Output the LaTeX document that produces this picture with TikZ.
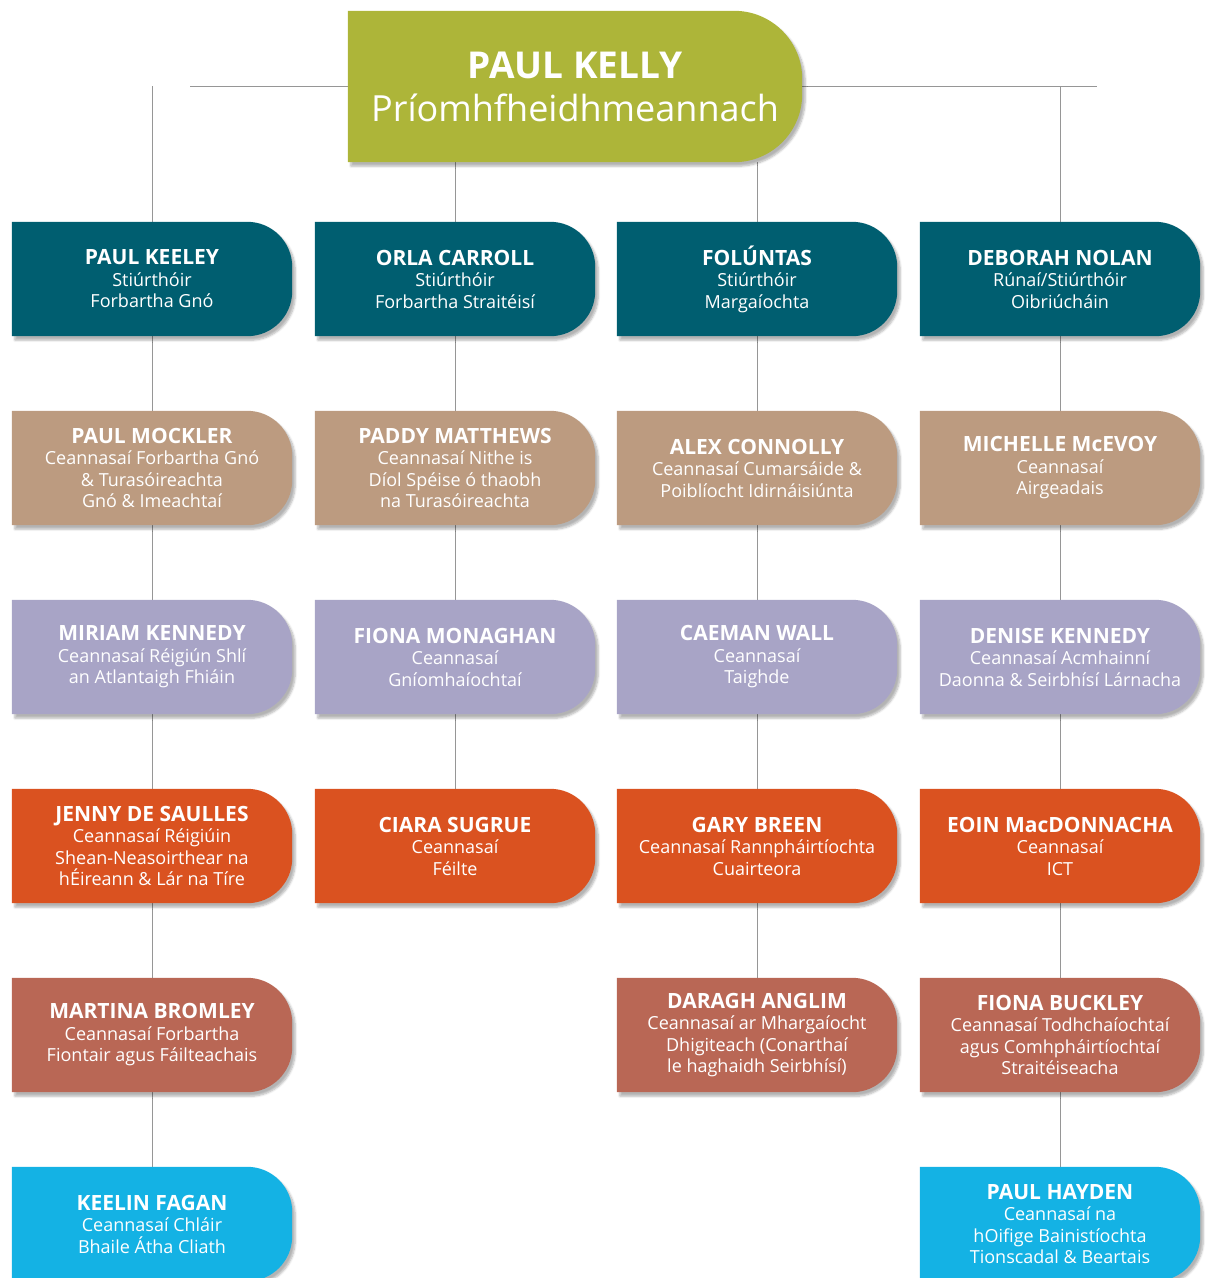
\documentclass[tikz,border=0pt]{standalone}
\usepackage{fontspec}
\setmainfont{Open Sans}
\usepackage{tikz}
\usetikzlibrary{positioning,calc,backgrounds,shadows.blur}
\definecolor{ceogreen}{RGB}{173,181,57}
\definecolor{dirteal}{RGB}{0,94,112}
\definecolor{headtan}{RGB}{188,155,128}
\definecolor{headlav}{RGB}{168,164,198}
\definecolor{headorange}{RGB}{218,82,32}
\definecolor{headrust}{RGB}{185,103,85}
\definecolor{headcyan}{RGB}{20,178,228}
\definecolor{linegray}{RGB}{150,150,150}
\newcommand{\who}[1]{{\bfseries\fontsize{21}{21.5}\selectfont #1}}

\begin{document}
\begin{tikzpicture}[x=1pt,y=-1pt,
    orgbox/.style={rectangle,inner sep=0pt,minimum width=280pt,minimum height=114pt,
      align=center,text=white,font=\fontsize{18}{21.5}\selectfont},
    orgline/.style={draw=linegray,line width=0.8pt},
    boxshadow/.style={blur shadow={shadow xshift=3pt,shadow yshift=-4pt,
      shadow opacity=30,shadow blur steps=6}}]
        \useasboundingbox (0,0) rectangle (1207,1278);

        % chief executive
        \node[orgbox,minimum width=454pt,minimum height=151pt,
          font=\fontsize{36}{43}\selectfont] (ceo) at (575,86.5)
          {{\bfseries\fontsize{37}{43}\selectfont PAUL KELLY}\\Príomhfheidhmeannach};

        % directors
        \node[orgbox] (keeley)   at (152,279)  {\who{PAUL KEELEY}\\Stiúrthóir\\Forbartha Gnó};
        \node[orgbox] (carroll)  at (455,279)  {\who{ORLA CARROLL}\\Stiúrthóir\\Forbartha Straitéisí};
        \node[orgbox] (foluntas) at (757,279)  {\who{FOLÚNTAS}\\Stiúrthóir\\Margaíochta};
        \node[orgbox] (nolan)    at (1060,279) {\who{DEBORAH NOLAN}\\Rúnaí/Stiúrthóir\\Oibriúcháin};

        % heads, row 2
        \node[orgbox] (mockler)  at (152,468)  {\who{PAUL MOCKLER}\\Ceannasaí Forbartha Gnó\\\& Turasóireachta\\Gnó \& Imeachtaí};
        \node[orgbox] (matthews) at (455,468)  {\who{PADDY MATTHEWS}\\Ceannasaí Nithe is\\Díol Spéise ó thaobh\\na Turasóireachta};
        \node[orgbox] (connolly) at (757,468)  {\who{ALEX CONNOLLY}\\Ceannasaí Cumarsáide \&\\Poiblíocht Idirnáisiúnta};
        \node[orgbox] (mcevoy)   at (1060,468) {\who{MICHELLE McEVOY}\\Ceannasaí\\Airgeadais};

        % heads, row 3
        \node[orgbox] (mkennedy) at (152,657)  {\who{MIRIAM KENNEDY}\\Ceannasaí Réigiún Shlí\\an Atlantaigh Fhiáin};
        \node[orgbox] (monaghan) at (455,657)  {\who{FIONA MONAGHAN}\\Ceannasaí\\Gníomhaíochtaí};
        \node[orgbox] (wall)     at (757,657)  {\who{CAEMAN WALL}\\Ceannasaí\\Taighde};
        \node[orgbox] (dkennedy) at (1060,657) {\who{DENISE KENNEDY}\\Ceannasaí Acmhainní\\Daonna \& Seirbhísí Lárnacha};

        % heads, row 4
        \node[orgbox] (desaulles) at (152,846)  {\who{JENNY DE SAULLES}\\Ceannasaí Réigiúin\\Shean-Neasoirthear na\\hÉireann \& Lár na Tíre};
        \node[orgbox] (sugrue)    at (455,846)  {\who{CIARA SUGRUE}\\Ceannasaí\\Féilte};
        \node[orgbox] (breen)     at (757,846)  {\who{GARY BREEN}\\Ceannasaí Rannpháirtíochta\\Cuairteora};
        \node[orgbox] (macdonnacha) at (1060,846) {\who{EOIN MacDONNACHA}\\Ceannasaí\\ICT};

        % heads, row 5
        \node[orgbox] (bromley) at (152,1035)  {\who{MARTINA BROMLEY}\\Ceannasaí Forbartha\\Fiontair agus Fáilteachais};
        \node[orgbox] (anglim)  at (757,1035)  {\who{DARAGH ANGLIM}\\Ceannasaí ar Mhargaíocht\\Dhigiteach (Conarthaí\\le haghaidh Seirbhísí)};
        \node[orgbox] (buckley) at (1060,1035) {\who{FIONA BUCKLEY}\\Ceannasaí Todhchaíochtaí\\agus Comhpháirtíochtaí\\Straitéiseacha};

        % heads, row 6
        \node[orgbox] (fagan)  at (152,1224)  {\who{KEELIN FAGAN}\\Ceannasaí Chláir\\Bhaile Átha Cliath};
        \node[orgbox] (hayden) at (1060,1224) {\who{PAUL HAYDEN}\\Ceannasaí na\\hOifige Bainistíochta\\Tionscadal \& Beartais};

        % connector lines
        \coordinate (barleft) at (190,86);
        \coordinate (barright) at (1097,86);
        \begin{scope}[on background layer]
          \draw[orgline] (barleft) -- (barright);
          \draw[orgline] (keeley.north |- barleft) -- (fagan.north);
          \draw[orgline] (carroll.north |- ceo.south) -- (sugrue.north);
          \draw[orgline] (foluntas.north |- ceo.south) -- (anglim.north);
          \draw[orgline] (nolan.north |- barright) -- (hayden.north);
        \end{scope}

        % box fills, square on the left, rounded on the right
        \begin{scope}[on background layer]
          \fill[ceogreen,boxshadow] (ceo.south west) -- (ceo.north west)
            -- ([xshift=-68pt]ceo.north east) arc[start angle=90,end angle=0,radius=68pt]
            -- ([yshift=68pt]ceo.south east) arc[start angle=0,end angle=-90,radius=68pt]
            -- cycle;
          \foreach \n/\c in {keeley/dirteal,carroll/dirteal,foluntas/dirteal,nolan/dirteal,
              mockler/headtan,matthews/headtan,connolly/headtan,mcevoy/headtan,
              mkennedy/headlav,monaghan/headlav,wall/headlav,dkennedy/headlav,
              desaulles/headorange,sugrue/headorange,breen/headorange,macdonnacha/headorange,
              bromley/headrust,anglim/headrust,buckley/headrust,
              fagan/headcyan,hayden/headcyan} {
            \fill[\c,boxshadow] (\n.south west) -- (\n.north west)
              -- ([xshift=-45pt]\n.north east) arc[start angle=90,end angle=0,radius=45pt]
              -- ([yshift=45pt]\n.south east) arc[start angle=0,end angle=-90,radius=45pt]
              -- cycle;
          }
        \end{scope}
      \end{tikzpicture}
\end{document}
